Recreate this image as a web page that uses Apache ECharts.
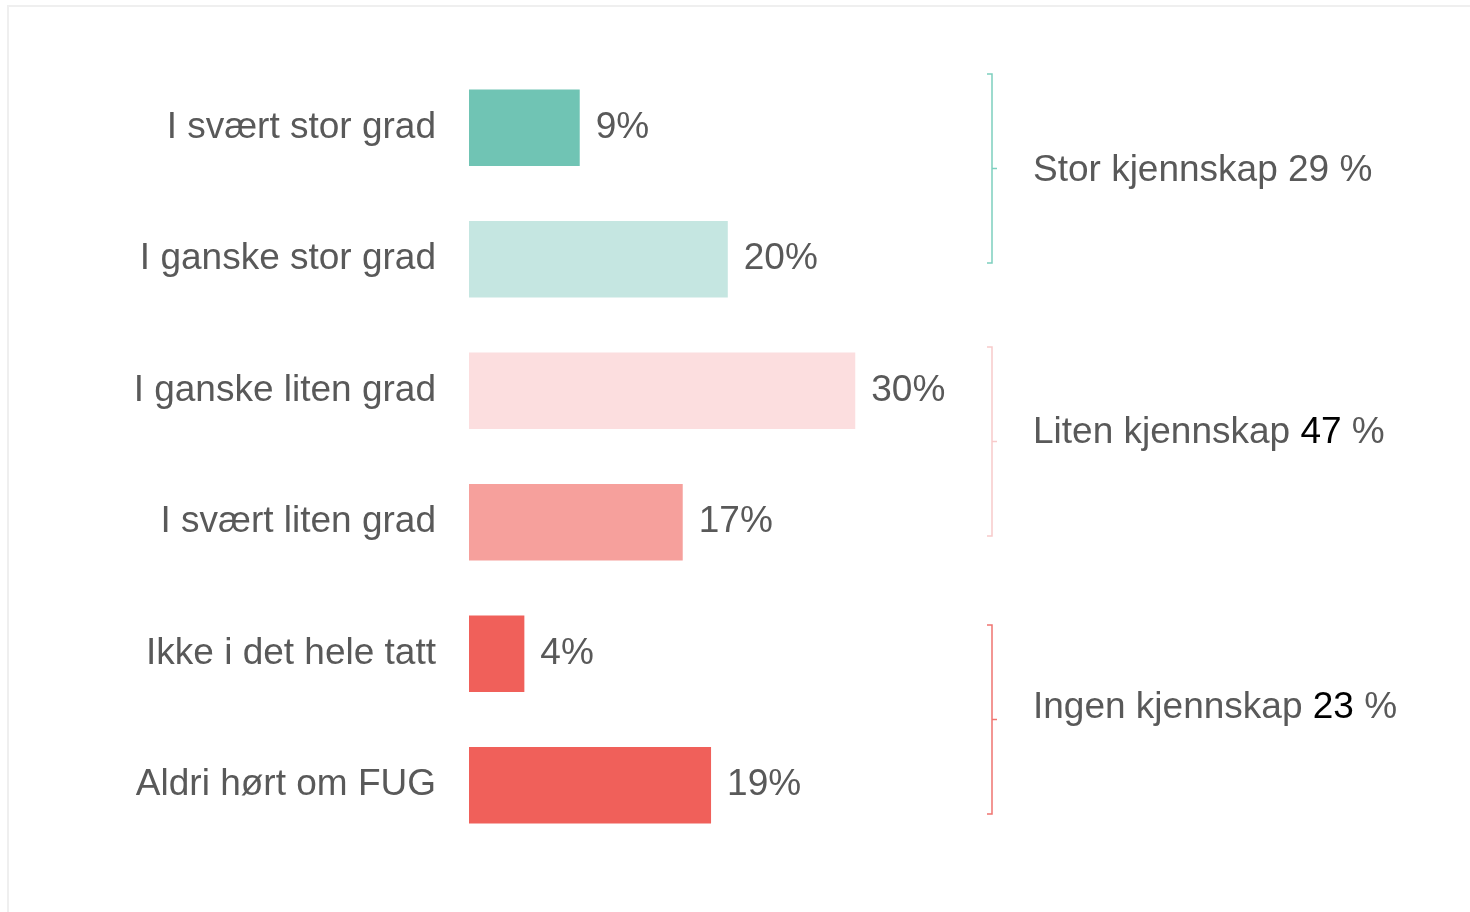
<!DOCTYPE html>
<html>
<head>
<meta charset="utf-8">
<script src="https://cdn.jsdelivr.net/npm/echarts@6/dist/echarts.min.js"></script>
<style>
  html, body { margin: 0; padding: 0; background: #fff; }
  #chart { width: 1470px; height: 912px; }
</style>
</head>
<body>
<div id="chart"></div>
<script>
// answer categories (top to bottom)
const categories = ['I svært stor grad', 'I ganske stor grad', 'I ganske liten grad', 'I svært liten grad', 'Ikke i det hele tatt', 'Aldri hørt om FUG'];
const values = [8.6, 20.1, 30.0, 16.6, 4.3, 18.8];
const barColors = ['#70C4B4', '#C5E6E1', '#FCDEDF', '#F6A09C', '#F0605A', '#F0605A'];

// grouped totals on the right
const groupNames = ['Stor kjennskap', 'Liten kjennskap', 'Ingen kjennskap'];
const groupTotals = [29, 47, 23];
const groupFirst = [0, 2, 4];
const groupLast = [1, 3, 5];
const groupColors = ['#7DCFBE', '#F8CACA', '#F07470'];
const totalColors = ['#595959', '#000000', '#000000'];
const bracketShift = [-25, -15, 0];

const font = '"Liberation Sans", Arial, sans-serif';
const gray = '#595959';
const fs = 37;

const chart = echarts.init(document.getElementById('chart'));

chart.setOption({
  animation: false,
  textStyle: { fontFamily: font },
  graphic: [{
    type: 'rect',
    z: -10,
    shape: { x: 8, y: 6, width: 1600, height: 1000 },
    style: { fill: 'none', stroke: '#EFEFEF', lineWidth: 2 }
  }],
  grid: { left: 469, right: 486, top: 62, bottom: 61 },
  xAxis: {
    type: 'value',
    min: 0,
    max: 40,
    show: false,
    splitLine: { show: false }
  },
  yAxis: {
    type: 'category',
    inverse: true,
    data: categories,
    axisLine: { show: false },
    axisTick: { show: false },
    axisLabel: {
      fontSize: fs,
      color: gray,
      margin: 33,
      fontFamily: font,
      padding: [4, 0, 0, 0]
    }
  },
  series: [
    {
      type: 'bar',
      barWidth: '58%',
      data: values.map((v, i) => ({ value: v, itemStyle: { color: barColors[i] } })),
      label: {
        show: true,
        position: 'right',
        distance: 16,
        fontSize: fs,
        color: gray,
        fontFamily: font,
        padding: [4, 0, 0, 0],
        formatter: p => Math.round(p.value) + '%'
      }
    },
    {
      type: 'custom',
      clip: false,
      silent: true,
      data: groupNames.map((n, i) => [i, groupFirst[i], groupLast[i], groupTotals[i]]),
      encode: { x: -1, y: 1 },
      renderItem: (params, api) => {
        const i = api.value(0);
        const y0 = api.coord([0, api.value(1)])[1];
        const y1 = api.coord([0, api.value(2)])[1];
        const x = api.coord([40, 0])[0] + 8;
        const mid = (y0 + y1) / 2 + bracketShift[i];
        const half = 94.5;
        const top = mid - half, bot = mid + half;
        const c = groupColors[i];
        const ls = { stroke: c, lineWidth: 1.5, fill: 'none' };
        return {
          type: 'group',
          children: [
            { type: 'polyline', shape: { points: [[x - 5, top], [x, top], [x, bot], [x - 5, bot]] }, style: ls },
            { type: 'line', shape: { x1: x, y1: mid, x2: x + 5, y2: mid }, style: ls },
            {
              type: 'text',
              style: {
                x: x + 41,
                y: mid + 2 - (i === 0 ? 0 : 8 + i * 3),
                verticalAlign: 'middle',
                align: 'left',
                text: '{a|' + groupNames[i] + ' }{b|' + api.value(3) + '}{a| %}',
                rich: {
                  a: { fontSize: fs, fontFamily: font, fill: gray, color: gray },
                  b: { fontSize: fs, fontFamily: font, fill: totalColors[i], color: totalColors[i] }
                }
              }
            }
          ]
        };
      }
    }
  ]
});
</script>
</body>
</html>
